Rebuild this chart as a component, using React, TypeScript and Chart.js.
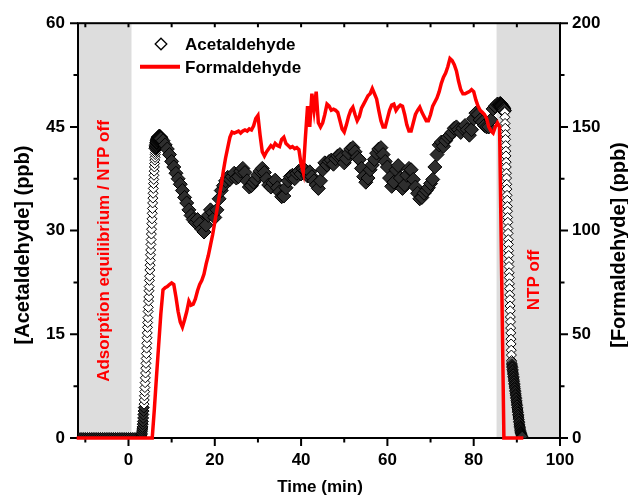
import React, { useEffect, useRef } from 'react';
import { Chart, registerables } from 'chart.js';

Chart.register(...registerables);

const FONT = "'Liberation Sans', Arial, sans-serif";

// ---- axes ----
const X_MIN = -11.7;
const X_MAX = 100;
const X_TICKS = [0, 20, 40, 60, 80, 100];
const X_MINOR = [-10, 10, 30, 50, 70, 90];
const X_TOP_TICKS = [-10, 0, 10, 20, 30, 40, 50, 60, 70, 80, 90, 100];
const YL_TICKS = [0, 15, 30, 45, 60];
const YL_MINOR = [7.5, 22.5, 37.5, 52.5];
const YR_TICKS = [0, 50, 100, 150, 200];
const YR_MINOR = [25, 75, 125, 175];

const X_TITLE = 'Time (min)';
const YL_TITLE = '[Acetaldehyde] (ppb)';
const YR_TITLE = '[Formaldehyde] (ppb)';
const NOTE_LEFT = 'Adsorption equilibrium / NTP off';
const NOTE_RIGHT = 'NTP off';
const SERIES_NAMES = ['Acetaldehyde', 'Formaldehyde'];

// shaded (NTP off) time ranges, minutes
const SHADE_RANGES = [
  [-11.7, 0.7],
  [85.3, 100],
];
// time ranges where the acetaldehyde markers are sparse enough to look open (white)
const OPEN_MARKER_RANGES = [
  [3.6, 6.3],
  [87.15, 88.8],
];
// time range of the dense, heavily overlapping plateau markers
const DENSE_RANGE = [6.3, 87.15];

// ---- Acetaldehyde (ppb), several sampling segments ----
const ACET_BASE_T0 = -11.5;
const ACET_BASE_DT = 0.5;
const ACET_BASE = [
  0, 0, 0, 0, 0, 0, 0, 0, 0, 0,
  0, 0, 0, 0, 0, 0, 0, 0, 0, 0,
  0, 0, 0, 0, 0, 0, 0, 0, 0,
];

const ACET_RISE_T0 = 3.0;
const ACET_RISE_DT = 0.05;
const ACET_RISE = [
  0.3, 0.5, 0.7, 1.0, 1.3, 1.6, 2.0, 2.4, 2.9, 3.4,
  3.9, 4.4, 4.9, 5.5, 6.1, 6.7, 7.3, 8.0, 8.7, 9.4,
  10.1, 10.8, 11.5, 12.2, 13.0, 13.7, 14.5, 15.2, 16.0, 16.7,
  17.4, 18.3, 18.9, 19.8, 20.4, 21.3, 21.9, 22.8, 23.4, 24.3,
  25.0, 25.7, 26.5, 27.2, 28.0, 28.7, 29.5, 30.2, 31.0, 31.7,
  32.5, 33.2, 34.0, 34.7, 35.4, 36.1, 36.8, 37.4, 38.0, 38.6,
  39.2, 39.7, 40.2, 40.6, 41.0, 41.3, 41.6, 41.9, 42.1, 42.3,
  42.5, 42.7, 42.8, 43.0, 43.1, 43.2, 43.3, 43.4, 43.4, 43.5,
  43.5, 43.6, 43.6, 43.6, 43.6, 43.6, 43.6, 43.5, 43.5, 43.4,
  43.3,
];

const ACET_MAIN_T0 = 8.0;
const ACET_MAIN_DT = 0.5;
const ACET_MAIN = [
  43.0, 42.4, 41.8, 41.0, 40.0, 39.2, 38.3, 37.5, 36.7, 35.8, // 8.0 - 12.5
  34.8, 34.0, 33.0, 32.2, 31.6, 31.2, 31.6, 31.0, 30.2, 29.8, // 13.0 - 17.5
  30.8, 32.2, 33.0, 32.6, 31.9, 33.0, 34.6, 35.8, 36.5, 37.2, // 18.0 - 22.5
  37.7, 37.4, 37.8, 38.3, 37.6, 37.8, 38.6, 39.0, 38.4, 37.2, // 23.0 - 27.5
  36.3, 36.5, 37.0, 37.4, 38.0, 38.6, 39.0, 38.4, 37.5, 36.6, // 28.0 - 32.5
  36.3, 36.9, 37.3, 36.2, 35.6, 34.9, 35.0, 36.2, 37.2, 37.8, // 33.0 - 37.5
  38.0, 37.5, 38.3, 38.6, 38.2, 38.9, 38.7, 37.9, 38.5, 37.8, // 38.0 - 42.5
  37.2, 36.6, 36.1, 37.2, 38.8, 39.8, 39.5, 40.0, 40.2, 39.6, // 43.0 - 47.5
  40.4, 40.8, 41.0, 40.6, 39.8, 40.4, 41.2, 41.8, 42.0, 41.4, // 48.0 - 52.5
  40.6, 40.3, 39.0, 37.8, 37.0, 37.6, 38.8, 39.5, 40.3, 41.2, // 53.0 - 57.5
  41.8, 42.0, 41.0, 40.0, 39.2, 37.6, 36.4, 37.0, 38.8, 39.4, // 58.0 - 62.5
  37.6, 36.1, 36.6, 38.0, 39.0, 38.8, 37.4, 36.3, 35.4, 34.6, // 63.0 - 67.5
  34.8, 35.4, 35.8, 36.2, 36.8, 37.4, 39.2, 41.0, 42.4, 42.8, // 68.0 - 72.5
  42.2, 43.0, 43.5, 43.8, 44.2, 44.8, 45.0, 44.6, 44.2, 44.8, // 73.0 - 77.5
  45.2, 44.6, 43.8, 44.6, 46.2, 47.0, 46.8, 46.0, 45.7, 45.2, // 78.0 - 82.5
  45.0, 45.0, 46.0, 47.6, 48.0, 48.3, 48.2,                   // 83.0 - 86.0
];

const ACET_HOLD_T0 = 86.05;
const ACET_HOLD_DT = 0.05;
const ACET_HOLD = [
  48.3, 48.2, 48.4, 48.1, 48.3, 48.0, 48.2, 48.1, 47.9, 48.1,
  47.8, 48.0, 47.7, 47.9, 47.6, 47.8, 47.5, 47.7, 47.4, 47.6,
  47.3, 47.4, 47.2,
];

const ACET_DROP_T0 = 87.2;
const ACET_DROP_DT = 0.035;
const ACET_DROP = [
  47.1, 46.4, 45.5, 44.8, 43.9, 43.2, 42.3, 41.5, 40.8, 39.9,
  39.2, 38.3, 37.6, 36.7, 36.0, 35.1, 34.4, 33.5, 32.8, 31.9,
  31.2, 30.3, 29.6, 28.7, 28.0, 27.1, 26.4, 25.5, 24.8, 23.9,
  23.2, 22.3, 21.6, 20.7, 20.0, 19.1, 18.4, 17.5, 16.8, 15.9,
  15.2, 14.3, 13.6, 12.7, 12.0, 11.2,
];

const ACET_TAIL_T0 = 88.8;
const ACET_TAIL_DT = 0.05;
const ACET_TAIL = [
  11.0, 10.7, 10.4, 10.2, 9.9, 9.7, 9.4, 9.2, 8.9, 8.7,
  8.4, 8.2, 7.9, 7.7, 7.4, 7.2, 6.9, 6.7, 6.4, 6.2,
  5.9, 5.7, 5.4, 5.2, 4.9, 4.7, 4.4, 4.2, 3.9, 3.7,
  3.4, 3.2, 2.9, 2.7, 2.4, 2.2, 1.9, 1.7, 1.5, 1.3,
  1.1, 0.9, 0.8, 0.7, 0.6, 0.5, 0.4, 0.3, 0.2, 0.2,
];

// ---- Formaldehyde (ppb), every 0.5 min from -12 ----
const FORM_T0 = -12;
const FORM_DT = 0.5;
const FORM_LEAD = [
  0, 0, 0, 0, 0, 0, 0, 0, 0, 0, // -12.0 .. -7.5
  0, 0, 0, 0, 0, 0, 0, 0, 0, 0, // -7.0 .. -2.5
  0, 0, 0, 0, 0, 0, 0, 0, 0, 0, // -2.0 .. 2.5
  0, 0, 0, 0, 0, 0,             // 3.0 .. 5.5
];
const FORM_MAIN = [
  14, 30, 45, 60, 71.5, 72.5, 73, 74, 74.8, 74,               // 6.0 - 10.5
  68, 61, 56, 53.5, 57, 61, 66, 64, 64.5, 67,                 // 11.0 - 15.5
  71, 74, 76, 79, 84, 88, 93, 98, 104, 110,                   // 16.0 - 20.5
  116, 122, 129, 135, 140, 145, 147.5, 147, 147.5, 148,       // 21.0 - 25.5
  147, 148, 148.5, 148, 149, 148.5, 150.5, 154, 155.5, 146,   // 26.0 - 30.5
  138, 136, 138, 139.5, 141, 140, 142, 141, 140.5, 144,       // 31.0 - 35.5
  145, 142, 141, 140, 140.5, 139.5, 140, 139, 132, 128,       // 36.0 - 40.5
  145, 160, 150, 166, 158, 167, 152, 150, 152, 156,           // 41.0 - 45.5
  161, 160, 158, 158.5, 158, 157, 153, 149, 147.5, 151,       // 46.0 - 50.5
  155, 158, 159.5, 156, 153, 155, 159, 161, 163, 165,         // 51.0 - 55.5
  166, 168.5, 166, 163.5, 158, 153, 150, 150, 154, 158,       // 56.0 - 60.5
  160.5, 161, 158, 159.5, 160.5, 160, 156, 151, 148, 148,     // 61.0 - 65.5
  152, 156, 158, 159.5, 157, 155, 153, 153, 156, 160,         // 66.0 - 70.5
  162, 164, 167, 171, 174, 176, 179, 183, 182, 180,           // 71.0 - 75.5
  177, 172, 168, 166, 166, 166.5, 167, 168, 167, 163,         // 76.0 - 80.5
  160, 158, 157, 156, 154, 150, 148, 147, 150, 152,           // 81.0 - 85.5
  150, 75,                                                    // 86.0 - 86.5
];
const FORM_END = [0, 0, 0, 0, 0, 0, 0, 0, 0, 0]; // 87.0 .. 91.5

function buildSeries(t0: number, dt: number, values: number[]) {
  return values.map((v, i) => ({ x: Math.round((t0 + i * dt) * 1000) / 1000, y: v }));
}

const acetPoints = [
  ...buildSeries(ACET_BASE_T0, ACET_BASE_DT, ACET_BASE),
  ...buildSeries(ACET_RISE_T0, ACET_RISE_DT, ACET_RISE),
  ...buildSeries(ACET_MAIN_T0, ACET_MAIN_DT, ACET_MAIN),
  ...buildSeries(ACET_HOLD_T0, ACET_HOLD_DT, ACET_HOLD),
  ...buildSeries(ACET_DROP_T0, ACET_DROP_DT, ACET_DROP),
  ...buildSeries(ACET_TAIL_T0, ACET_TAIL_DT, ACET_TAIL),
];

const formPoints = buildSeries(FORM_T0, FORM_DT, [...FORM_LEAD, ...FORM_MAIN, ...FORM_END]);

function isOpenMarker(t: number) {
  return OPEN_MARKER_RANGES.some(([a, b]) => t >= a && t <= b);
}
function isDense(t: number) {
  return t > DENSE_RANGE[0] && t < DENSE_RANGE[1];
}

const decorPlugin = {
  id: 'decor',
  beforeDatasetsDraw(chart: any) {
    const { ctx, chartArea } = chart;
    const x = chart.scales.x;
    const y = chart.scales.y;
    const y2 = chart.scales.y2;
    const { left, right, top, bottom } = chartArea;
    ctx.save();
    ctx.fillStyle = '#dddddd';
    SHADE_RANGES.forEach(([a, b]) => {
      const xa = Math.max(left, x.getPixelForValue(a));
      const xb = Math.min(right, x.getPixelForValue(b));
      ctx.fillRect(xa, top, xb - xa, bottom - top);
    });
    ctx.strokeStyle = '#000';
    ctx.lineWidth = 2;
    ctx.strokeRect(left, top, right - left, bottom - top);
    ctx.beginPath();
    X_TICKS.forEach((v) => {
      const p = x.getPixelForValue(v);
      ctx.moveTo(p, bottom);
      ctx.lineTo(p, bottom + 8);
    });
    X_MINOR.forEach((v) => {
      const p = x.getPixelForValue(v);
      ctx.moveTo(p, bottom);
      ctx.lineTo(p, bottom + 4.5);
    });
    X_TOP_TICKS.forEach((v) => {
      const p = x.getPixelForValue(v);
      ctx.moveTo(p, top);
      ctx.lineTo(p, top + 4);
    });
    YL_TICKS.forEach((v) => {
      const p = y.getPixelForValue(v);
      ctx.moveTo(left, p);
      ctx.lineTo(left - 8, p);
    });
    YL_MINOR.forEach((v) => {
      const p = y.getPixelForValue(v);
      ctx.moveTo(left, p);
      ctx.lineTo(left - 4.5, p);
    });
    YR_TICKS.forEach((v) => {
      const p = y2.getPixelForValue(v);
      ctx.moveTo(right, p);
      ctx.lineTo(right + 8, p);
    });
    YR_MINOR.forEach((v) => {
      const p = y2.getPixelForValue(v);
      ctx.moveTo(right, p);
      ctx.lineTo(right + 4.5, p);
    });
    ctx.stroke();
    ctx.restore();
  },
  afterDraw(chart: any) {
    const { ctx } = chart;
    ctx.save();
    ctx.fillStyle = '#000';
    ctx.textAlign = 'center';
    ctx.font = `bold 17px ${FONT}`;
    ctx.textBaseline = 'alphabetic';
    ctx.fillText(X_TITLE, 320, 492);

    ctx.font = `bold 20px ${FONT}`;
    ctx.textBaseline = 'middle';
    ctx.save();
    ctx.translate(23, 245);
    ctx.rotate(-Math.PI / 2);
    ctx.fillText(YL_TITLE, 0, 0);
    ctx.restore();
    ctx.save();
    ctx.translate(619, 245);
    ctx.rotate(-Math.PI / 2);
    ctx.fillText(YR_TITLE, 0, 0);
    ctx.restore();

    ctx.fillStyle = '#ff0000';
    ctx.font = `bold 17px ${FONT}`;
    ctx.save();
    ctx.translate(104, 251);
    ctx.rotate(-Math.PI / 2);
    ctx.fillText(NOTE_LEFT, 0, 0);
    ctx.restore();
    ctx.save();
    ctx.translate(534, 280);
    ctx.rotate(-Math.PI / 2);
    ctx.fillText(NOTE_RIGHT, 0, 0);
    ctx.restore();

    // legend
    ctx.fillStyle = '#ffffff';
    ctx.strokeStyle = '#000';
    ctx.lineWidth = 1.3;
    ctx.beginPath();
    ctx.moveTo(155.2, 44);
    ctx.lineTo(161, 38.2);
    ctx.lineTo(166.8, 44);
    ctx.lineTo(161, 49.8);
    ctx.closePath();
    ctx.fill();
    ctx.stroke();
    ctx.strokeStyle = '#ff0000';
    ctx.lineWidth = 4;
    ctx.beginPath();
    ctx.moveTo(140, 66.7);
    ctx.lineTo(180, 66.7);
    ctx.stroke();
    ctx.fillStyle = '#000';
    ctx.textAlign = 'left';
    ctx.textBaseline = 'alphabetic';
    ctx.font = `bold 17px ${FONT}`;
    ctx.fillText(SERIES_NAMES[0], 185, 49.5);
    ctx.fillText(SERIES_NAMES[1], 185, 72.5);
    ctx.restore();
  },
};

export default function App() {
  const ref = useRef<HTMLCanvasElement>(null);
  useEffect(() => {
    document.body.style.margin = '0';
    document.body.style.overflow = 'hidden';
    const tickFont = { family: FONT, size: 17, weight: 'bold' as const };
    const chart = new Chart(ref.current as HTMLCanvasElement, {
      type: 'scatter',
      data: {
        datasets: [
          {
            label: SERIES_NAMES[1],
            data: formPoints,
            yAxisID: 'y2',
            showLine: true,
            borderColor: '#ff0000',
            backgroundColor: '#ff0000',
            borderWidth: 3.5,
            pointRadius: 0,
            tension: 0,
            order: 0,
            clip: 2,
          } as any,
          {
            label: SERIES_NAMES[0],
            data: acetPoints,
            yAxisID: 'y',
            showLine: false,
            pointStyle: 'rectRot',
            pointRadius: (c: any) => {
              if (!c.raw) return 5;
              if (isOpenMarker(c.raw.x)) return 5;
              return isDense(c.raw.x) ? 7 : 5.5;
            },
            pointBorderColor: '#000000',
            pointBackgroundColor: (c: any) => (c.raw && isOpenMarker(c.raw.x) ? '#ffffff' : '#2e2e2e'),
            pointBorderWidth: 1,
            order: 1,
            clip: 0,
          } as any,
        ],
      },
      options: {
        animation: false,
        responsive: false,
        devicePixelRatio: 1,
        layout: { padding: { top: 23, left: 0, right: 0, bottom: 0 } },
        plugins: { legend: { display: false }, tooltip: { enabled: false }, title: { display: false } },
        events: [],
        scales: {
          x: {
            type: 'linear',
            position: 'bottom',
            min: X_MIN,
            max: X_MAX,
            grid: { display: false, drawTicks: false },
            border: { display: false },
            ticks: { font: tickFont, color: '#000', padding: 12, maxRotation: 0 },
            afterBuildTicks: (s: any) => {
              s.ticks = X_TICKS.map((v) => ({ value: v }));
            },
            afterFit: (s: any) => {
              s.height = 57;
            },
          },
          y: {
            type: 'linear',
            position: 'left',
            min: 0,
            max: 60,
            grid: { display: false, drawTicks: false },
            border: { display: false },
            ticks: { font: tickFont, color: '#000', padding: 13 },
            afterBuildTicks: (s: any) => {
              s.ticks = YL_TICKS.map((v) => ({ value: v }));
            },
            afterFit: (s: any) => {
              s.width = 78;
            },
          },
          y2: {
            type: 'linear',
            position: 'right',
            min: 0,
            max: 200,
            grid: { display: false, drawTicks: false },
            border: { display: false },
            ticks: { font: tickFont, color: '#000', padding: 12 },
            afterBuildTicks: (s: any) => {
              s.ticks = YR_TICKS.map((v) => ({ value: v }));
            },
            afterFit: (s: any) => {
              s.width = 68;
            },
          },
        },
      } as any,
      plugins: [decorPlugin],
    });
    return () => chart.destroy();
  }, []);
  return (
    <div style={{ width: 628, height: 495, position: 'relative', overflow: 'hidden' }}>
      <canvas ref={ref} width={628} height={495} style={{ display: 'block' }} />
    </div>
  );
}
